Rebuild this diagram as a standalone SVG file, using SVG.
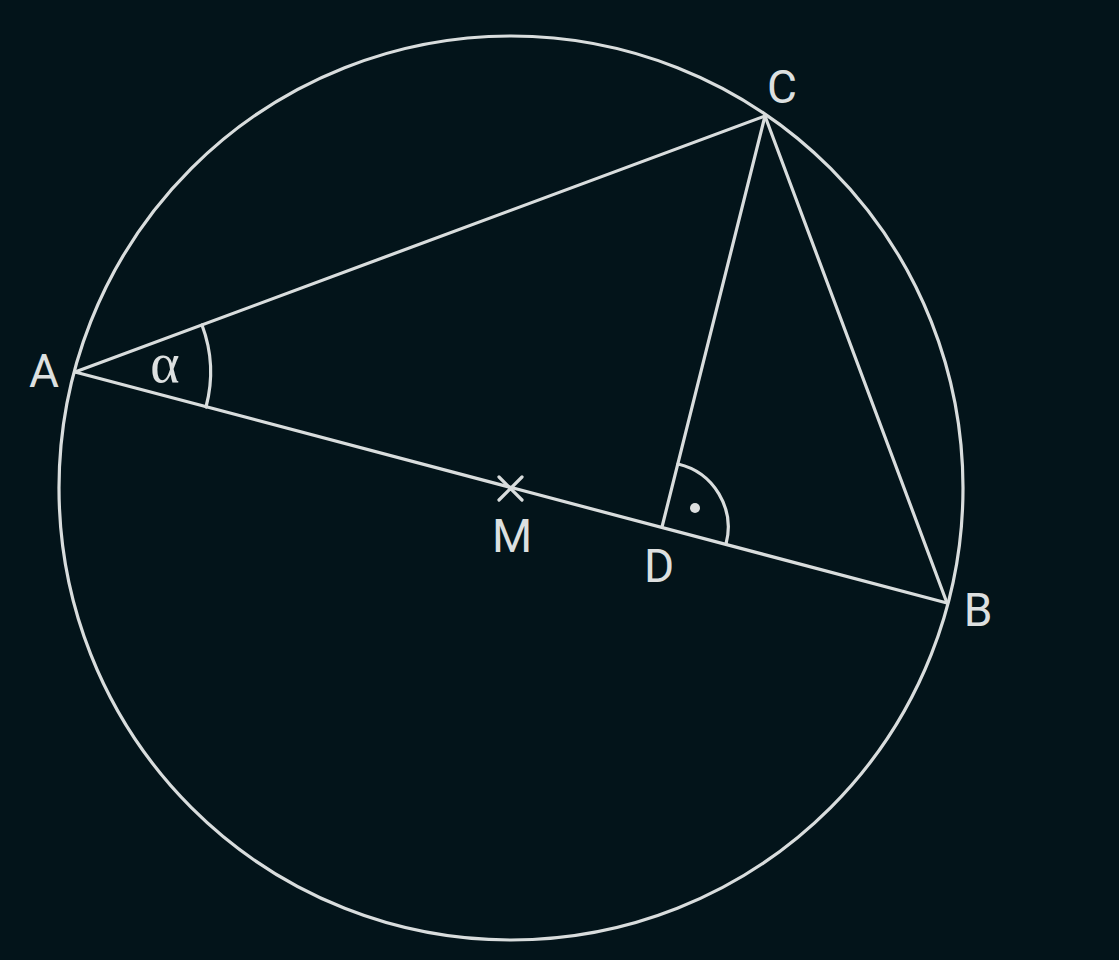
<svg xmlns="http://www.w3.org/2000/svg" width="1119" height="960" viewBox="0 0 1119 960">
<style>
.ln{fill:none;stroke:#d9dddd;stroke-width:3.2;stroke-linecap:round;stroke-linejoin:round}
.lb{font-family:"Roboto","Liberation Sans",sans-serif;font-size:46px;fill:#dde0e0}
.gr{font-family:"Liberation Serif","DejaVu Serif",serif;font-size:56px;fill:#dde0e0}
</style>
<rect width="1119" height="960" fill="#03141a"/>
<g id="circle"><circle class="ln" cx="511" cy="488" r="452"/></g>
<g id="connectors">
<line class="ln" x1="75" y1="372" x2="947" y2="603"/>
<line class="ln" x1="75" y1="372" x2="765" y2="116"/>
<line class="ln" x1="765" y1="116" x2="947" y2="603"/>
<line class="ln" x1="765" y1="116" x2="662" y2="527"/>
<path class="ln" d="M202 325 A135 135 0 0 1 206 407"/>
<path class="ln" d="M678 464 A65 65 0 0 1 726 544"/>
<circle cx="695" cy="508" r="5" fill="#dde0e0"/>
</g>
<g id="M"><path class="ln" d="M499 477 L522 500 M522 477 L499 500"/><text class="lb" x="512" y="552" text-anchor="middle">M</text></g>
<g id="A"><text class="lb" x="44" y="387" text-anchor="middle">A</text></g>
<g id="B"><text class="lb" x="978" y="626" text-anchor="middle">B</text></g>
<g id="C"><text class="lb" x="782" y="103" text-anchor="middle">C</text></g>
<g id="D"><text class="lb" x="659" y="582" text-anchor="middle">D</text></g>
<g id="alpha"><text class="gr" x="165" y="382" text-anchor="middle">α</text></g>
</svg>
